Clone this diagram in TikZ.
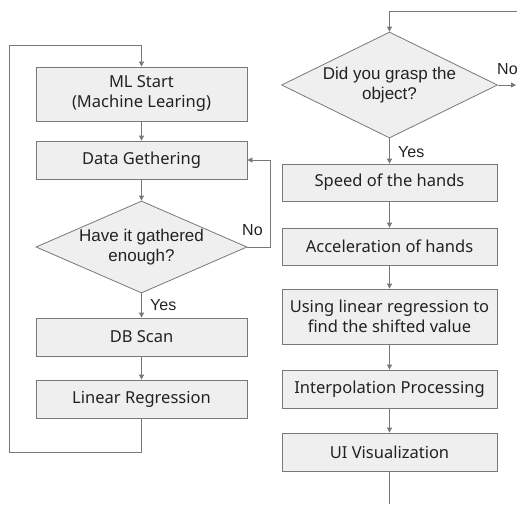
\documentclass[tikz,border=0pt]{standalone}
\usepackage{fontspec}
\setmainfont{Noto Sans}
\newfontfamily\arialfont{Liberation Sans}
\usetikzlibrary{shapes, arrows.meta, positioning, calc}
\definecolor{boxfill}{RGB}{239, 239, 239}
\definecolor{linegray}{RGB}{120, 120, 120}
\definecolor{inkgray}{RGB}{34, 34, 34}

\tikzset{
  stepbox/.style={draw=linegray, fill=boxfill, line width=0.8pt, minimum height=38pt,
    inner sep=2pt, align=center, text=inkgray, font=\fontsize{16.5}{20}\selectfont},
  leftbox/.style={stepbox, minimum width=211pt},
  rightbox/.style={stepbox, minimum width=215pt},
  decide/.style={diamond, draw=linegray, fill=boxfill, line width=0.8pt, aspect=2.3,
    inner sep=0pt, align=center, text=inkgray, font=\arialfont\fontsize{17}{20}\selectfont},
  flow/.style={draw=linegray, line width=0.8pt, -{Triangle[length=5pt, width=5pt]}},
  wire/.style={draw=linegray, line width=0.8pt},
  answer/.style={text=inkgray, font=\arialfont\fontsize{16}{18}\selectfont, inner sep=0pt}
}

\begin{document}
\begin{tikzpicture}[x=1pt, y=-1pt]
  \useasboundingbox (0, 0) rectangle (517, 504);

  % left column: learning
  \node[leftbox, minimum height=54pt] (mlstart) at (141.5, 94) {ML Start\\(Machine Learing)};
  \node[leftbox] (gather) at (141.5, 160) {Data Gethering};
  \node[decide, minimum width=211pt, minimum height=92pt] (enough) at (141.5, 247) {Have it gathered\\enough?};
  \node[leftbox] (dbscan) at (141.5, 337) {DB Scan};
  \node[leftbox] (linreg) at (141.5, 399) {Linear Regression};

  \draw[flow] (mlstart) -- (gather);
  \draw[flow] (gather) -- (enough);
  \draw[flow] (enough) -- (dbscan);
  \draw[flow] (dbscan) -- (linreg);
  \draw[flow] (enough.east) -- (270, 247) -- (270, 160) -- (gather.east);
  \draw[flow] (linreg.south) -- (141.5, 452) -- (9, 452) -- (9, 45) -- (141.5, 45) -- (mlstart.north);

  \node[answer, anchor=west] (nogather) at (242, 230) {No};
  \node[answer, anchor=west] (yesgather) at (150, 305) {Yes};

  % right column: hand tracking
  \coordinate (topin) at (517, 11);
  \coordinate (noout) at (516, 85);
  \coordinate (bottomout) at (389.5, 504);
  \node[decide, minimum width=216pt, minimum height=106pt] (grasp) at (389.5, 85) {Did you grasp the\\object?};
  \node[rightbox, minimum height=37pt] (speed) at (389.5, 182.5) {Speed of the hands};
  \node[rightbox, minimum height=37pt] (accel) at (389.5, 246.5) {Acceleration of hands};
  \node[rightbox, minimum height=55pt] (shift) at (389.5, 316.5) {Using linear regression to\\find the shifted value};
  \node[rightbox] (interp) at (389.5, 389) {Interpolation Processing};
  \node[rightbox] (uivis) at (389.5, 452) {UI Visualization};

  \draw[flow] (topin) -- (389.5, 11) -- (grasp.north);
  \draw[flow] (grasp.east) -- (noout);
  \draw[flow] (grasp) -- (speed);
  \draw[flow] (speed) -- (accel);
  \draw[flow] (accel) -- (shift);
  \draw[flow] (shift) -- (interp);
  \draw[flow] (interp) -- (uivis);
  \draw[wire] (uivis) -- (bottomout);

  \node[answer, anchor=west] (nograsp) at (497, 69) {No};
  \node[answer, anchor=west] (yesgrasp) at (398, 152) {Yes};
\end{tikzpicture}
\end{document}
